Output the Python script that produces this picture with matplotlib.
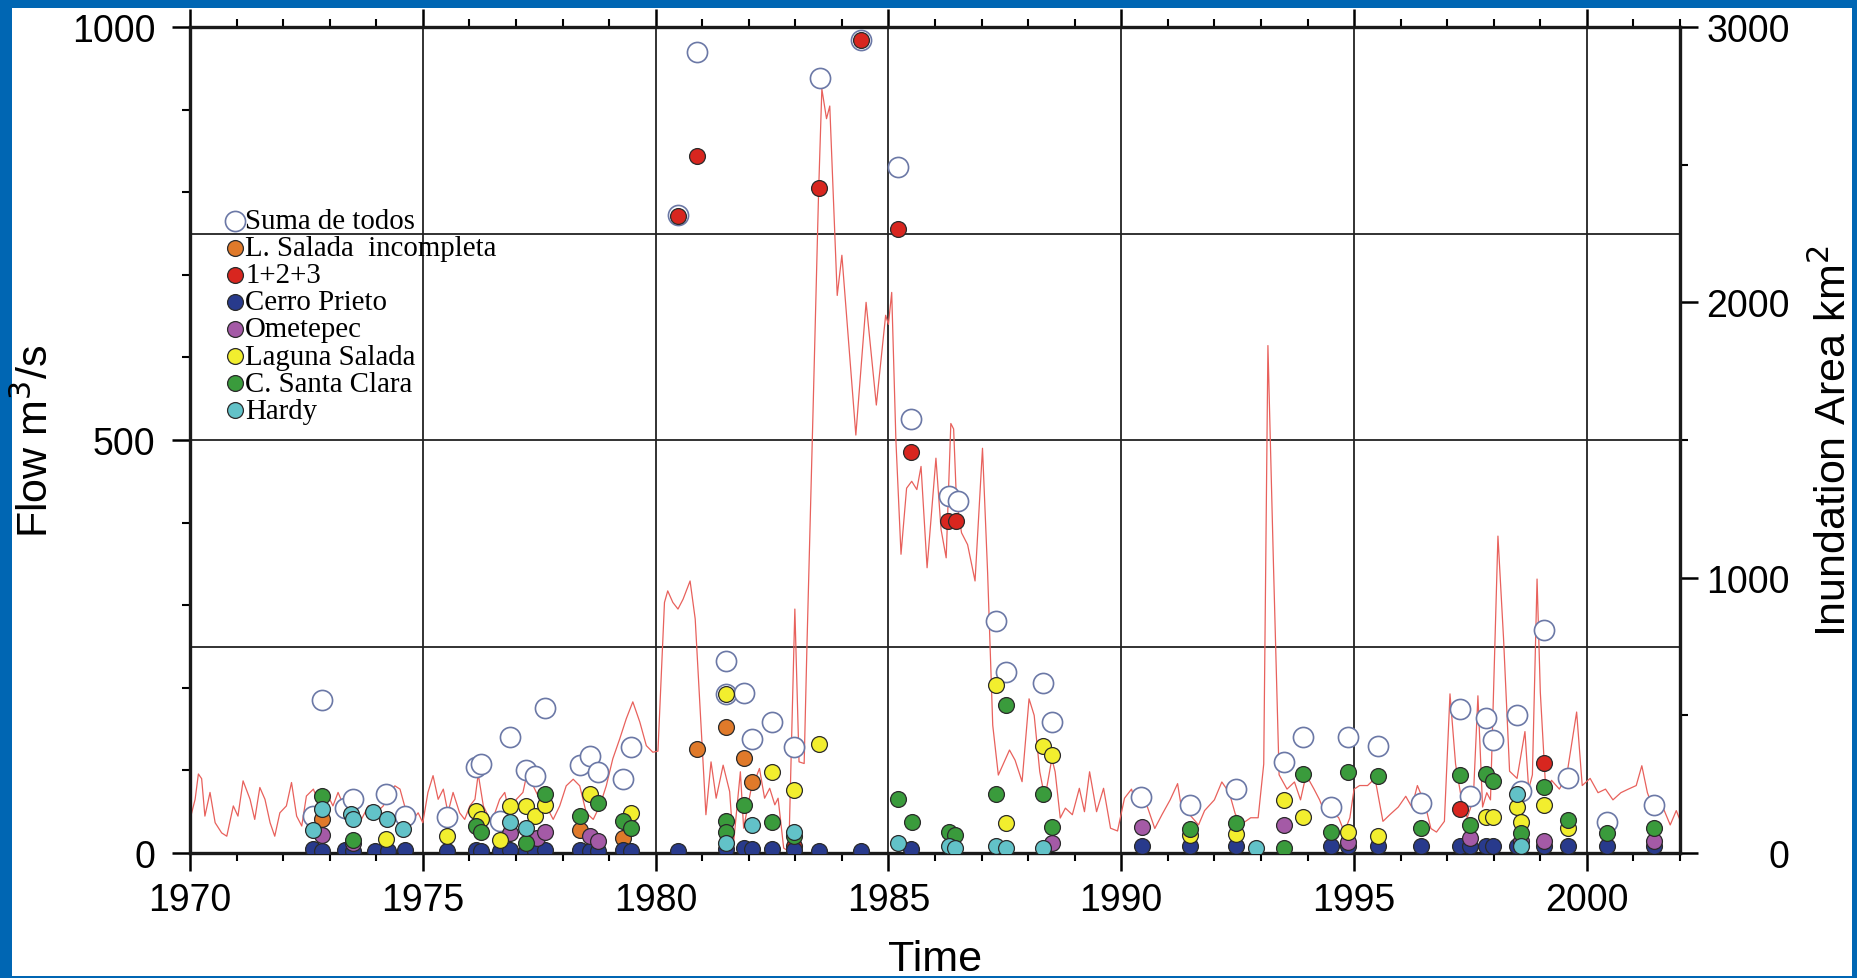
import matplotlib
matplotlib.use("Agg")
import matplotlib.pyplot as plt
from matplotlib.patches import Rectangle
from matplotlib.ticker import MultipleLocator, FixedLocator

# ---------------- data ----------------
# Inundation area (km2, right axis)
area_years = [1970.0, 1970.11, 1970.18, 1970.25, 1970.32, 1970.43, 1970.54, 1970.68, 1970.79, 1970.93,
              1971.03, 1971.14, 1971.29, 1971.39, 1971.50, 1971.61, 1971.72, 1971.82, 1971.93, 1972.07,
              1972.18, 1972.29, 1972.40, 1972.50, 1972.65, 1972.79, 1972.93, 1973.07, 1973.18, 1973.33,
              1973.50, 1973.68, 1973.83, 1974.0, 1974.15, 1974.29, 1974.40, 1974.51, 1974.65, 1974.79,
              1974.90, 1975.0, 1975.11, 1975.22, 1975.33, 1975.44, 1975.54, 1975.65, 1975.79, 1975.90,
              1976.01, 1976.12, 1976.19, 1976.30, 1976.44, 1976.55, 1976.65, 1976.76, 1976.87, 1977.01,
              1977.15, 1977.26, 1977.37, 1977.51, 1977.65, 1977.80, 1977.94, 1978.08, 1978.23, 1978.37,
              1978.51, 1978.66, 1978.80, 1978.94, 1979.08, 1979.23, 1979.37, 1979.51, 1979.66, 1979.80,
              1979.94, 1980.05, 1980.19, 1980.26, 1980.37, 1980.48, 1980.59, 1980.74, 1980.85, 1980.97,
              1981.08, 1981.19, 1981.30, 1981.45, 1981.59, 1981.67, 1981.82, 1981.89, 1982.04, 1982.23,
              1982.34, 1982.45, 1982.56, 1982.63, 1982.75, 1982.86, 1982.99, 1983.08, 1983.19, 1983.25,
              1983.38, 1983.50, 1983.57, 1983.67, 1983.74, 1983.90, 1984.0, 1984.30, 1984.52, 1984.74,
              1984.94, 1985.0, 1985.07, 1985.16, 1985.27, 1985.39, 1985.50, 1985.61, 1985.70, 1985.83,
              1986.02, 1986.13, 1986.24, 1986.34, 1986.40, 1986.46, 1986.57, 1986.70, 1986.86, 1987.02,
              1987.13, 1987.24, 1987.36, 1987.47, 1987.60, 1987.72, 1987.87, 1988.02, 1988.13, 1988.25,
              1988.36, 1988.51, 1988.58, 1988.69, 1988.80, 1988.95, 1989.10, 1989.21, 1989.32, 1989.47,
              1989.62, 1989.77, 1989.92, 1990.07, 1990.22, 1990.33, 1990.51, 1990.72, 1990.88, 1991.05,
              1991.21, 1991.29, 1991.46, 1991.66, 1991.79, 1992.0, 1992.16, 1992.32, 1992.45, 1992.61,
              1992.78, 1992.94, 1993.06, 1993.15, 1993.27, 1993.39, 1993.56, 1993.72, 1993.85, 1993.97,
              1994.14, 1994.26, 1994.38, 1994.51, 1994.67, 1994.79, 1994.91, 1995.0, 1995.12, 1995.29,
              1995.45, 1995.62, 1995.78, 1995.95, 1996.11, 1996.24, 1996.36, 1996.52, 1996.65, 1996.77,
              1996.94, 1997.06, 1997.18, 1997.31, 1997.43, 1997.56, 1997.66, 1997.76, 1997.85, 1997.93,
              1998.09, 1998.21, 1998.34, 1998.50, 1998.67, 1998.75, 1998.83, 1998.93, 1999.0, 1999.12,
              1999.24, 1999.41, 1999.57, 1999.78, 1999.90, 2000.07, 2000.24, 2000.40, 2000.56, 2000.73,
              2000.89, 2001.06, 2001.18, 2001.30, 2001.47, 2001.63, 2001.79, 2001.92, 2002.0]
area_km2 = [122, 195, 287, 270, 134, 220, 110, 73, 61, 171,
            134, 262, 195, 122, 238, 195, 110, 61, 146, 171,
            256, 134, 98, 207, 232, 171, 220, 171, 220, 159,
            171, 122, 171, 146, 171, 220, 244, 232, 146, 122,
            146, 110, 220, 281, 195, 232, 146, 220, 146, 122,
            171, 195, 287, 171, 122, 146, 195, 220, 134, 195,
            220, 305, 244, 195, 171, 122, 171, 244, 268, 244,
            146, 122, 171, 244, 342, 415, 488, 549, 476, 390,
            366, 370, 910, 952, 910, 886, 922, 988, 850, 476,
            139, 331, 199, 319, 223, 30, 295, 90, 223, 307,
            199, 235, 175, 199, 18, 6, 886, 331, 325, 753,
            1600, 2400, 2775, 2667, 2713, 2025, 2171, 1518, 2000, 1627,
            1953, 1920, 2036, 1500, 1085, 1325, 1350, 1320, 1404, 1036,
            1434, 1175, 1072, 1560, 1540, 1283, 1163, 1120, 988, 1470,
            1018, 464, 283, 325, 374, 337, 259, 560, 500, 295,
            199, 343, 295, 127, 163, 139, 235, 150, 295, 150,
            235, 90, 80, 199, 232, 170, 193, 89, 141, 193,
            252, 167, 141, 102, 154, 193, 258, 219, 141, 108,
            128, 128, 323, 1843, 1041, 284, 232, 258, 193, 284,
            232, 193, 141, 154, 128, 76, 128, 232, 245, 245,
            271, 115, 141, 167, 206, 167, 245, 180, 89, 76,
            115, 578, 323, 193, 128, 193, 571, 167, 219, 193,
            1151, 780, 297, 271, 441, 232, 284, 995, 584, 219,
            264, 232, 284, 512, 245, 271, 219, 232, 193, 219,
            232, 245, 317, 219, 141, 167, 102, 154, 120]

# Flow (m3/s, left axis) per station
suma_x = [1972.65, 1972.83, 1973.33, 1973.50, 1974.22, 1974.61, 1975.51, 1976.15, 1976.26, 1976.65,
          1976.87, 1977.22, 1977.40, 1977.62, 1978.37, 1978.58, 1978.76, 1979.30, 1979.48,
          1980.48, 1980.89, 1981.52, 1981.51, 1981.89, 1982.08, 1982.49, 1982.97, 1983.52, 1984.41,
          1985.21, 1985.48, 1986.31, 1986.50, 1987.32, 1987.53, 1988.32, 1988.51,
          1990.42, 1991.47, 1992.47, 1993.50, 1993.91, 1994.51, 1994.88, 1995.52, 1996.44, 1997.28,
          1997.49, 1997.84, 1997.99, 1998.50, 1998.58, 1999.08, 1999.59, 2000.44, 2001.45]
suma_y = [45, 185, 55, 65, 71, 45, 43, 104, 108, 39,
          140, 100, 93, 175, 106, 118, 98, 89, 128,
          773, 970, 232, 192, 194, 138, 159, 128, 938, 984,
          830, 525, 432, 426, 281, 219, 206, 159,
          68, 58, 77, 110, 140, 56, 140, 130, 60, 174,
          69, 163, 137, 167, 75, 270, 91, 38, 58]

lsi_x = [1972.83, 1978.37, 1979.30, 1980.89, 1981.51, 1981.89, 1982.08]
lsi_y = [41, 28, 18, 126, 153, 115, 86]

r123_x = [1980.48, 1980.89, 1982.97, 1983.50, 1984.41, 1985.21, 1985.48, 1986.28, 1986.46, 1997.28, 1999.08]
r123_y = [771, 844, 8, 805, 984, 756, 486, 402, 402, 53, 109]

cp_x = [1972.65, 1972.83, 1973.33, 1973.50, 1973.97, 1974.26, 1974.61, 1975.51, 1976.15, 1976.26,
        1976.65, 1976.87, 1977.22, 1977.40, 1977.62, 1978.37, 1978.58, 1978.76, 1979.30, 1979.48,
        1980.48, 1981.52, 1981.89, 1982.08, 1982.49, 1982.97, 1983.50, 1984.41, 1985.48,
        1990.45, 1991.47, 1992.47, 1994.51, 1994.88, 1995.52, 1996.44, 1997.28, 1997.49, 1997.84,
        1997.99, 1998.50, 1999.08, 1999.59, 2000.44, 2001.45]
cp_y = [5, 3, 4, 3, 3, 3, 4, 3, 4, 3,
        3, 4, 3, 3, 4, 4, 3, 3, 4, 3,
        3, 5, 6, 5, 5, 4, 3, 3, 5,
        8, 8, 8, 8, 8, 8, 8, 8, 8, 8,
        8, 8, 8, 8, 8, 8]

ome_x = [1972.83, 1973.50, 1976.87, 1977.45, 1977.62, 1978.58, 1978.77, 1988.51, 1990.45, 1993.50,
         1994.88, 1997.49, 1998.58, 1999.08, 2001.45]
ome_y = [22, 12, 24, 18, 25, 21, 15, 12, 32, 34,
         13, 18, 14, 14, 14]

ls_x = [1974.22, 1975.51, 1976.15, 1976.26, 1976.65, 1976.87, 1977.22, 1977.40, 1977.62, 1978.58,
        1979.48, 1981.51, 1982.49, 1982.97, 1983.51, 1987.32, 1987.53, 1988.32, 1988.51, 1991.47,
        1992.47, 1993.50, 1993.91, 1994.88, 1995.52, 1997.84, 1997.99, 1998.50, 1998.58, 1999.08,
        1999.59]
ls_y = [17, 20, 51, 41, 16, 57, 57, 45, 58, 71,
        49, 193, 98, 76, 132, 203, 36, 129, 119, 22,
        23, 64, 44, 25, 21, 44, 44, 56, 38, 58,
        30]

csc_x = [1972.83, 1973.50, 1976.15, 1976.26, 1977.22, 1977.62, 1978.37, 1978.76, 1979.30, 1979.48,
         1981.52, 1981.52, 1981.89, 1982.49, 1982.97, 1985.20, 1985.50, 1986.31, 1986.44, 1987.32,
         1987.53, 1988.32, 1988.51, 1991.47, 1992.47, 1993.50, 1993.91, 1994.51, 1994.88, 1995.52,
         1996.44, 1997.28, 1997.49, 1997.84, 1997.99, 1998.58, 1999.08, 1999.59, 2000.44, 2001.45]
csc_y = [69, 16, 33, 26, 12, 71, 45, 61, 39, 30,
         39, 25, 58, 37, 20, 65, 38, 25, 22, 72,
         179, 72, 32, 29, 36, 6, 96, 25, 98, 93,
         30, 95, 34, 96, 87, 24, 80, 40, 24, 30]

hardy_x = [1972.65, 1972.83, 1973.45, 1973.50, 1973.93, 1974.23, 1974.58, 1976.87, 1977.22, 1981.52,
           1982.08, 1982.97, 1985.20, 1986.31, 1986.44, 1987.32, 1987.53, 1988.32, 1992.90, 1998.50,
           1998.58]
hardy_y = [28, 53, 47, 41, 50, 41, 29, 37, 30, 12,
           34, 26, 12, 8, 6, 8, 6, 6, 6, 71,
           9]

labels = ["Suma de todos", "L. Salada  incompleta", "1+2+3", "Cerro Prieto",
          "Ometepec", "Laguna Salada", "C. Santa Clara", "Hardy"]
x_ticks = [1970, 1975, 1980, 1985, 1990, 1995, 2000]
flow_ticks = [0, 500, 1000]
area_ticks = [0, 1000, 2000, 3000]
flow_grid = [250, 500, 750]

# ---------------- figure ----------------
W, H = 1858, 979
fig = plt.figure(figsize=(W / 100, H / 100), dpi=100)
fig.patch.set_facecolor("#0066b3")
fig.add_artist(Rectangle((12 / W, 2 / H), (1852 - 12) / W, (970 - 2) / H,
                         transform=fig.transFigure, facecolor="white", edgecolor="none", zorder=0))

left, right, top, bottom = 190, 1680, 28, 854
ax2 = fig.add_axes([left / W, 1 - bottom / H, (right - left) / W, (bottom - top) / H])
ax = fig.add_axes(ax2.get_position(), sharex=ax2)
ax.patch.set_visible(False)
ax2.set_facecolor("white")

sans = "Liberation Sans"
serif = "Liberation Serif"

# red area line on the right axis
ax2.plot(area_years, area_km2, color="#e8615c", lw=0.9, zorder=2)
ax2.set_ylim(0, 3000)
ax2.set_xlim(1970, 2002)
ax2.yaxis.tick_right()
ax2.yaxis.set_label_position("right")
ax2.yaxis.set_major_locator(FixedLocator(area_ticks))
ax2.yaxis.set_minor_locator(MultipleLocator(500))
ax2.tick_params(axis="y", which="major", direction="out", length=13, width=1.8,
                labelsize=27, pad=66, labelfontfamily=sans)
for t in ax2.get_yticklabels():
    t.set_horizontalalignment("right")
ax2.tick_params(axis="y", which="minor", direction="out", length=6, width=1.5)
ax2.tick_params(axis="x", which="both", bottom=False, top=False, labelbottom=False)
ax2.set_ylabel("Inundation Area km$^2$", fontsize=31, family=sans)
ax2.yaxis.set_label_coords(1.103, 0.5)
ax2.yaxis.label.set_va("center")
for s in ax2.spines.values():
    s.set_visible(False)

# grid on lower axes so it sits behind the scatter
for g in x_ticks[1:]:
    ax2.axvline(g, color="#222222", lw=1.3, zorder=1)
for g in flow_grid:
    ax2.axhline(g * 3, color="#222222", lw=1.3, zorder=1)

# scatter on the left axis
hollow_kw = dict(s=210, facecolor="white", edgecolor="#6b78a6", linewidths=1.2)
fill_kw = dict(s=130, edgecolor="#2a2a2a", linewidths=0.9)
h = []
h.append(ax.scatter(suma_x, suma_y, zorder=3, **hollow_kw))
h.append(ax.scatter(lsi_x, lsi_y, color="#e07a2a", zorder=4, **fill_kw))
h.append(ax.scatter(r123_x, r123_y, color="#d8261f", zorder=4, **fill_kw))
h.append(ax.scatter(cp_x, cp_y, color="#283a8c", zorder=4, **fill_kw))
h.append(ax.scatter(ome_x, ome_y, color="#a45aa6", zorder=4, **fill_kw))
h.append(ax.scatter(ls_x, ls_y, color="#f2ee2e", zorder=4, **fill_kw))
h.append(ax.scatter(csc_x, csc_y, color="#3a9b3c", zorder=4, **fill_kw))
h.append(ax.scatter(hardy_x, hardy_y, color="#62c2c8", zorder=4, **fill_kw))

ax.set_xlim(1970, 2002)
ax.set_ylim(0, 1000)
ax.xaxis.set_major_locator(FixedLocator(x_ticks))
ax.xaxis.set_minor_locator(MultipleLocator(1))
ax.yaxis.set_major_locator(FixedLocator(flow_ticks))
ax.yaxis.set_minor_locator(MultipleLocator(100))
ax.tick_params(axis="x", which="major", direction="out", length=13, width=1.8,
               top=True, labelsize=27, pad=8, labelfontfamily=sans)
ax.tick_params(axis="x", which="minor", direction="out", length=6, width=1.5, top=True)
ax.tick_params(axis="y", which="major", direction="out", length=13, width=1.8,
               right=False, labelsize=27, pad=12, labelfontfamily=sans)
ax.tick_params(axis="y", which="minor", direction="out", length=6, width=1.5, right=False)
for s in ax.spines.values():
    s.set_linewidth(2.4)
    s.set_color("#1a1a1a")

ax.set_ylabel("Flow m$^3$/s", fontsize=31, family=sans)
ax.yaxis.set_label_coords(-0.1034, 0.5)
ax.yaxis.label.set_va("center")
ax.set_xlabel("Time", fontsize=31, family=sans)
ax.xaxis.set_label_coords(0.5, -0.128)
ax.xaxis.label.set_va("center")

leg = ax.legend(h, labels, loc="upper left", bbox_to_anchor=(0.0245, 0.781),
                frameon=False, prop={"family": serif, "size": 20.8},
                handlelength=0.6, handletextpad=0.05, labelspacing=0.03,
                borderpad=0, borderaxespad=0, scatterpoints=1)

fig.savefig("out.png", dpi=100, facecolor=fig.get_facecolor())
